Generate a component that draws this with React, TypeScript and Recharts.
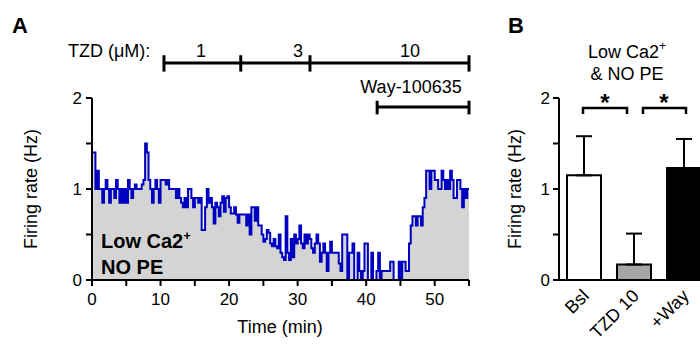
import React from "react";
import {
  ComposedChart,
  Area,
  XAxis,
  YAxis,
  ReferenceLine,
  BarChart,
  Bar,
  Cell,
  ErrorBar,
} from "recharts";

// Panel A: firing rate trace, one value per 15-s bin (Hz)
const BIN_MIN = 0.25;
const rate0to10 = [
  1.4, 1.4, 1.0, 1.2, 1.0, 1.0, 0.85, 1.0, 1.1, 1.0,
  0.85, 1.0, 1.0, 0.9, 1.1, 1.0, 0.85, 1.0, 0.85, 1.0,
  0.85, 1.1, 1.0, 0.9, 1.0, 1.05, 1.0, 1.0, 1.0, 1.05,
  1.1, 1.5, 1.4, 1.1, 1.0, 0.85, 1.0, 1.1, 1.0, 0.85,
];
const rate10to20 = [
  1.1, 1.1, 1.1, 1.05, 1.1, 1.0, 1.0, 1.0, 1.0, 0.9,
  1.0, 0.9, 0.85, 0.8, 0.9, 0.8, 1.0, 1.0, 0.9, 0.8,
  0.9, 0.9, 0.85, 0.9, 0.55, 0.55, 0.8, 1.0, 0.85, 0.9,
  0.8, 0.62, 0.85, 0.8, 0.7, 0.85, 0.92, 0.75, 0.9, 0.92,
];
const rate20to30 = [
  0.8, 0.73, 0.73, 0.8, 0.72, 0.63, 0.72, 0.72, 0.72, 0.72,
  0.6, 0.72, 0.5, 0.8, 0.8, 0.65, 0.8, 0.6, 0.6, 0.5,
  0.42, 0.45, 0.55, 0.52, 0.4, 0.37, 0.45, 0.37, 0.35, 0.5,
  0.3, 0.25, 0.22, 0.7, 0.3, 0.22, 0.45, 0.25, 0.5, 0.4,
];
const rate30to40 = [
  0.45, 0.6, 0.4, 0.35, 0.5, 0.4, 0.5, 0.45, 0.35, 0.3,
  0.4, 0.5, 0.4, 0.2, 0.3, 0.4, 0.3, 0.1, 0.3, 0.42,
  0.3, 0.3, 0.3, 0.3, 0.18, 0.1, 0.5, 0.5, 0.5, 0,
  0.3, 0.3, 0.4, 0, 0, 0.3, 0.1, 0, 0.1, 0.4,
];
const rate40to50 = [
  0.4, 0, 0, 0.3, 0, 0, 0.1, 0.3, 0, 0.1,
  0.1, 0.1, 0.1, 0.1, 0.2, 0.2, 0, 0, 0, 0.2,
  0, 0.2, 0.2, 0.1, 0.1, 0.4, 0.6, 0.7, 0.7, 0.6,
  0.7, 0.7, 0.6, 0.8, 0.9, 1.2, 1.2, 1.0, 1.2, 1.2,
];
const rate50to55 = [
  1.1, 1.1, 1.0, 1.0, 1.2, 1.1, 1.0, 1.1, 1.0, 1.2,
  1.1, 0.9, 0.9, 1.1, 1.1, 1.0, 0.8, 1.0, 0.9, 1.0,
];

const timeTicks = [0, 5, 10, 15, 20, 25, 30, 35, 40, 45, 50, 55];
const rateTicks = [0, 0.5, 1, 1.5, 2];

// drug application windows (min)
const tzdEdges = [10.5, 21.7, 31.8, 55];
const tzdDoses = ["1", "3", "10"];
const wayWindow = [41.6, 55];

// Panel B: mean +/- SEM
const groups = ["Bsl", "TZD 10", "+Way"];
const groupMeans = [1.15, 0.17, 1.23];
const groupSem = [0.43, 0.34, 0.32];
const groupFills = ["#ffffff", "#a6a6a6", "#000000"];

const traceRates = [
  ...rate0to10,
  ...rate10to20,
  ...rate20to30,
  ...rate30to40,
  ...rate40to50,
  ...rate50to55,
];
const traceData = [
  ...traceRates.map((rate, i) => ({ t: i * BIN_MIN, rate })),
  { t: 55, rate: traceRates[traceRates.length - 1] },
];

const barData = groups.map((group, i) => ({
  group,
  mean: groupMeans[i],
  err: [0, groupSem[i]],
}));

const FONT = '"Liberation Sans", Arial, Helvetica, sans-serif';
const tickStyle = { fill: "#000", fontSize: 17 };

function GroupTick({ x, y, payload }: any) {
  return (
    <text
      transform={`translate(${x + 6},${y + 17}) rotate(-45)`}
      textAnchor="end"
      fontSize={18}
      fill="#000"
    >
      {payload.value}
    </text>
  );
}

export default function App() {
  return (
    <div
      style={{
        position: "absolute",
        left: 0,
        top: 0,
        width: 700,
        height: 348,
        overflow: "hidden",
        background: "#fff",
        fontFamily: FONT,
      }}
    >
      <div style={{ position: "absolute", left: 0, top: 0 }}>
        <ComposedChart
          width={480}
          height={348}
          data={traceData}
          margin={{ top: 98, right: 11, bottom: 38, left: 42 }}
        >
          <XAxis
            type="number"
            dataKey="t"
            domain={[0, 55]}
            ticks={timeTicks}
            interval={0}
            tickFormatter={(v: number) => (v % 10 === 0 ? String(v) : "")}
            stroke="#000"
            strokeWidth={2}
            tickSize={6}
            tickMargin={7}
            height={30}
            tick={tickStyle}
          />
          <YAxis
            type="number"
            domain={[0, 2]}
            ticks={rateTicks}
            interval={0}
            tickFormatter={(v: number) => (Number.isInteger(v) ? String(v) : "")}
            width={50}
            stroke="#000"
            strokeWidth={2}
            tickSize={6}
            tickMargin={4}
            tick={tickStyle}
          />
          <Area
            type="stepAfter"
            dataKey="rate"
            stroke="#0000c0"
            strokeWidth={2}
            fill="#d4d4d4"
            fillOpacity={1}
            dot={false}
            activeDot={false}
            isAnimationActive={false}
          />
          <ReferenceLine
            segment={[
              { x: tzdEdges[0], y: 2.385 },
              { x: tzdEdges[tzdEdges.length - 1], y: 2.385 },
            ]}
            ifOverflow="visible"
            stroke="#000"
            strokeWidth={3}
          />
          {tzdEdges.map((e) => (
            <ReferenceLine
              key={`tz${e}`}
              segment={[
                { x: e, y: 2.47 },
                { x: e, y: 2.29 },
              ]}
              ifOverflow="visible"
              stroke="#000"
              strokeWidth={3}
            />
          ))}
          <ReferenceLine
            segment={[
              { x: wayWindow[0], y: 1.9 },
              { x: wayWindow[1], y: 1.9 },
            ]}
            ifOverflow="visible"
            stroke="#000"
            strokeWidth={3}
          />
          {wayWindow.map((e) => (
            <ReferenceLine
              key={`wy${e}`}
              segment={[
                { x: e, y: 1.97 },
                { x: e, y: 1.82 },
              ]}
              ifOverflow="visible"
              stroke="#000"
              strokeWidth={3}
            />
          ))}
        </ComposedChart>
      </div>

      <div style={{ position: "absolute", left: 480, top: 0 }}>
        <BarChart
          width={240}
          height={348}
          data={barData}
          margin={{ top: 98, right: 11, bottom: 38, left: 39 }}
        >
          <XAxis
            dataKey="group"
            interval={0}
            tickLine={false}
            tickSize={0}
            tickMargin={0}
            stroke="#000"
            strokeWidth={2}
            height={30}
            tick={<GroupTick />}
          />
          <YAxis
            type="number"
            domain={[0, 2]}
            ticks={rateTicks}
            interval={0}
            tickFormatter={(v: number) => (Number.isInteger(v) ? String(v) : "")}
            width={40}
            stroke="#000"
            strokeWidth={2}
            tickSize={6}
            tickMargin={3}
            tick={tickStyle}
          />
          <Bar
            dataKey="mean"
            barSize={34}
            stroke="#000"
            strokeWidth={2}
            isAnimationActive={false}
          >
            {groupFills.map((f, i) => (
              <Cell key={groups[i]} fill={f} />
            ))}
            <ErrorBar
              dataKey="err"
              direction="y"
              width={8}
              stroke="#000"
              strokeWidth={2}
            />
          </Bar>
        </BarChart>
      </div>

      <svg
        width={700}
        height={348}
        style={{ position: "absolute", left: 0, top: 0, pointerEvents: "none" }}
        fontFamily={FONT}
      >
        <text x={12} y={33} fontSize={22} fontWeight="bold">A</text>
        <text x={508} y={33} fontSize={22} fontWeight="bold">B</text>

        <text x={68} y={57} fontSize={18}>TZD (μM):</text>
        {tzdDoses.map((d, i) => (
          <text key={d} x={[201, 298, 410][i]} y={57} fontSize={18} textAnchor="middle">
            {d}
          </text>
        ))}
        <text x={411} y={93} fontSize={18} textAnchor="middle">Way-100635</text>

        <text x={101} y={248} fontSize={20} fontWeight="bold">
          Low Ca2<tspan dy={-8} fontSize={13}>+</tspan>
        </text>
        <text x={101} y={274} fontSize={20} fontWeight="bold">NO PE</text>

        <text x={280} y={333} fontSize={18} textAnchor="middle">Time (min)</text>
        <text transform="translate(37,189) rotate(-90)" fontSize={18} textAnchor="middle">
          Firing rate (Hz)
        </text>
        <text transform="translate(521,189) rotate(-90)" fontSize={18} textAnchor="middle">
          Firing rate (Hz)
        </text>

        <text x={627} y={58} fontSize={18} textAnchor="middle">
          Low Ca2<tspan dy={-8} fontSize={12}>+</tspan>
        </text>
        <text x={627} y={80} fontSize={18} textAnchor="middle">& NO PE</text>

        <path d="M583 114 V108 H627 V114" fill="none" stroke="#000" strokeWidth={2.5} />
        <path d="M643 114 V108 H686 V114" fill="none" stroke="#000" strokeWidth={2.5} />
        <text x={605} y={111} fontSize={24} fontWeight="bold" textAnchor="middle">*</text>
        <text x={664} y={111} fontSize={24} fontWeight="bold" textAnchor="middle">*</text>
      </svg>
    </div>
  );
}
